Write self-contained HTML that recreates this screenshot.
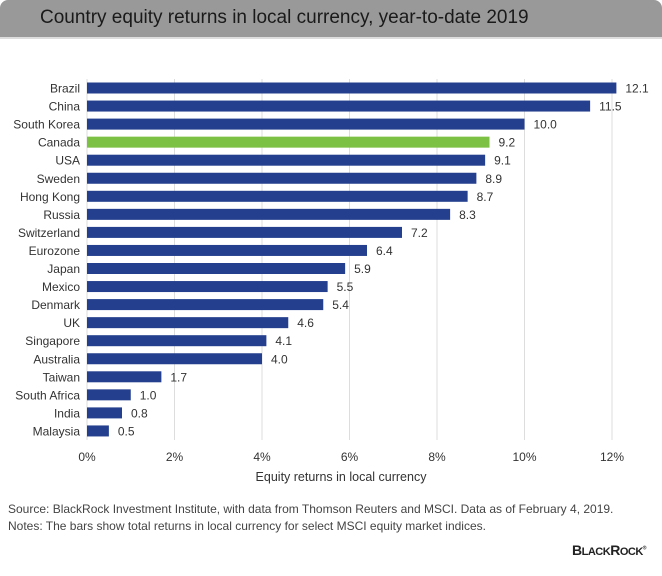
<!DOCTYPE html>
<html><head><meta charset="utf-8"><style>
body{margin:0;background:#fff;font-family:"Liberation Sans",sans-serif;}
#wrap{position:relative;width:662px;height:576px;overflow:hidden;background:#fff}
#hdr{position:absolute;left:0;top:0;width:662px;height:37px;background:#999;border-radius:8px 8px 0 0;border-bottom:2px solid #ddd}
#hdr span{position:absolute;left:40px;top:7px;font-size:19px;color:#1a1a1a}
.t{position:absolute;font-size:12px;color:#333}
</style></head><body>
<div id="wrap">
<div id="hdr"><span>Country equity returns in local currency, year-to-date 2019</span></div>
<svg id="svg" width="662" height="576" style="position:absolute;left:0;top:0"></svg>
<div class="t" style="left:0;width:662px;text-align:center;top:470px;font-size:12.5px;padding-left:20px;box-sizing:border-box;width:662px">Equity returns in local currency</div>
<div class="t" style="left:8px;top:502px;font-size:12px;color:#444">Source: BlackRock Investment Institute, with data from Thomson Reuters and MSCI. Data as of February 4, 2019.</div>
<div class="t" style="left:8px;top:519px;font-size:12px;color:#444">Notes: The bars show total returns in local currency for select MSCI equity market indices.</div>
<div class="t" style="left:572px;top:542px;font-size:14px;font-weight:bold;color:#222;letter-spacing:-0.5px">B<span style="font-size:11px">LACK</span>R<span style="font-size:11px">OCK</span><sup style="font-size:5px">®</sup></div>
</div>
<script>
const categories=["Brazil","China","South Korea","Canada","USA","Sweden","Hong Kong","Russia","Switzerland","Eurozone","Japan","Mexico","Denmark","UK","Singapore","Australia","Taiwan","South Africa","India","Malaysia"];
const values=[12.1,11.5,10.0,9.2,9.1,8.9,8.7,8.3,7.2,6.4,5.9,5.5,5.4,4.6,4.1,4.0,1.7,1.0,0.8,0.5];
const highlight=["Canada"];
const ticks=[0,2,4,6,8,10,12];
const ns="http://www.w3.org/2000/svg";
const svg=document.getElementById('svg');
const x0=87,xs=43.75,y0=88,pitch=18.05,bh=11;
const X=v=>x0+v*xs, Y=i=>y0+i*pitch;
function mk(t,a){const e=document.createElementNS(ns,t);for(const k in a)e.setAttribute(k,a[k]);svg.appendChild(e);return e;}
ticks.forEach(t=>{
 const l=mk('line',{x1:X(t),x2:X(t),y1:79,y2:440,stroke:'#ddd','stroke-width':1});
 
 
 const tx=mk('text',{x:X(t),y:461,'text-anchor':'middle','font-size':12,fill:'#333','font-family':'Liberation Sans, sans-serif'});
 tx.textContent=t+'%';
 
 
});
categories.forEach((c,i)=>{
 const y=Y(i);
 const r=mk('rect',{x:x0,y:y-bh/2,width:X(values[i])-x0,height:bh,fill:highlight.includes(c)?'#7dc144':'#233f8e'});
 
 
 const lb=mk('text',{x:x0-7,y:y+4.5,'text-anchor':'end','font-size':12,fill:'#333','font-family':'Liberation Sans, sans-serif'});
 lb.textContent=c;
 
 
 const vl=mk('text',{x:X(values[i])+9,y:y+4.5,'font-size':12,fill:'#333','font-family':'Liberation Sans, sans-serif'});
 vl.textContent=values[i].toFixed(1);
 
 
});
</script>
</body></html>
